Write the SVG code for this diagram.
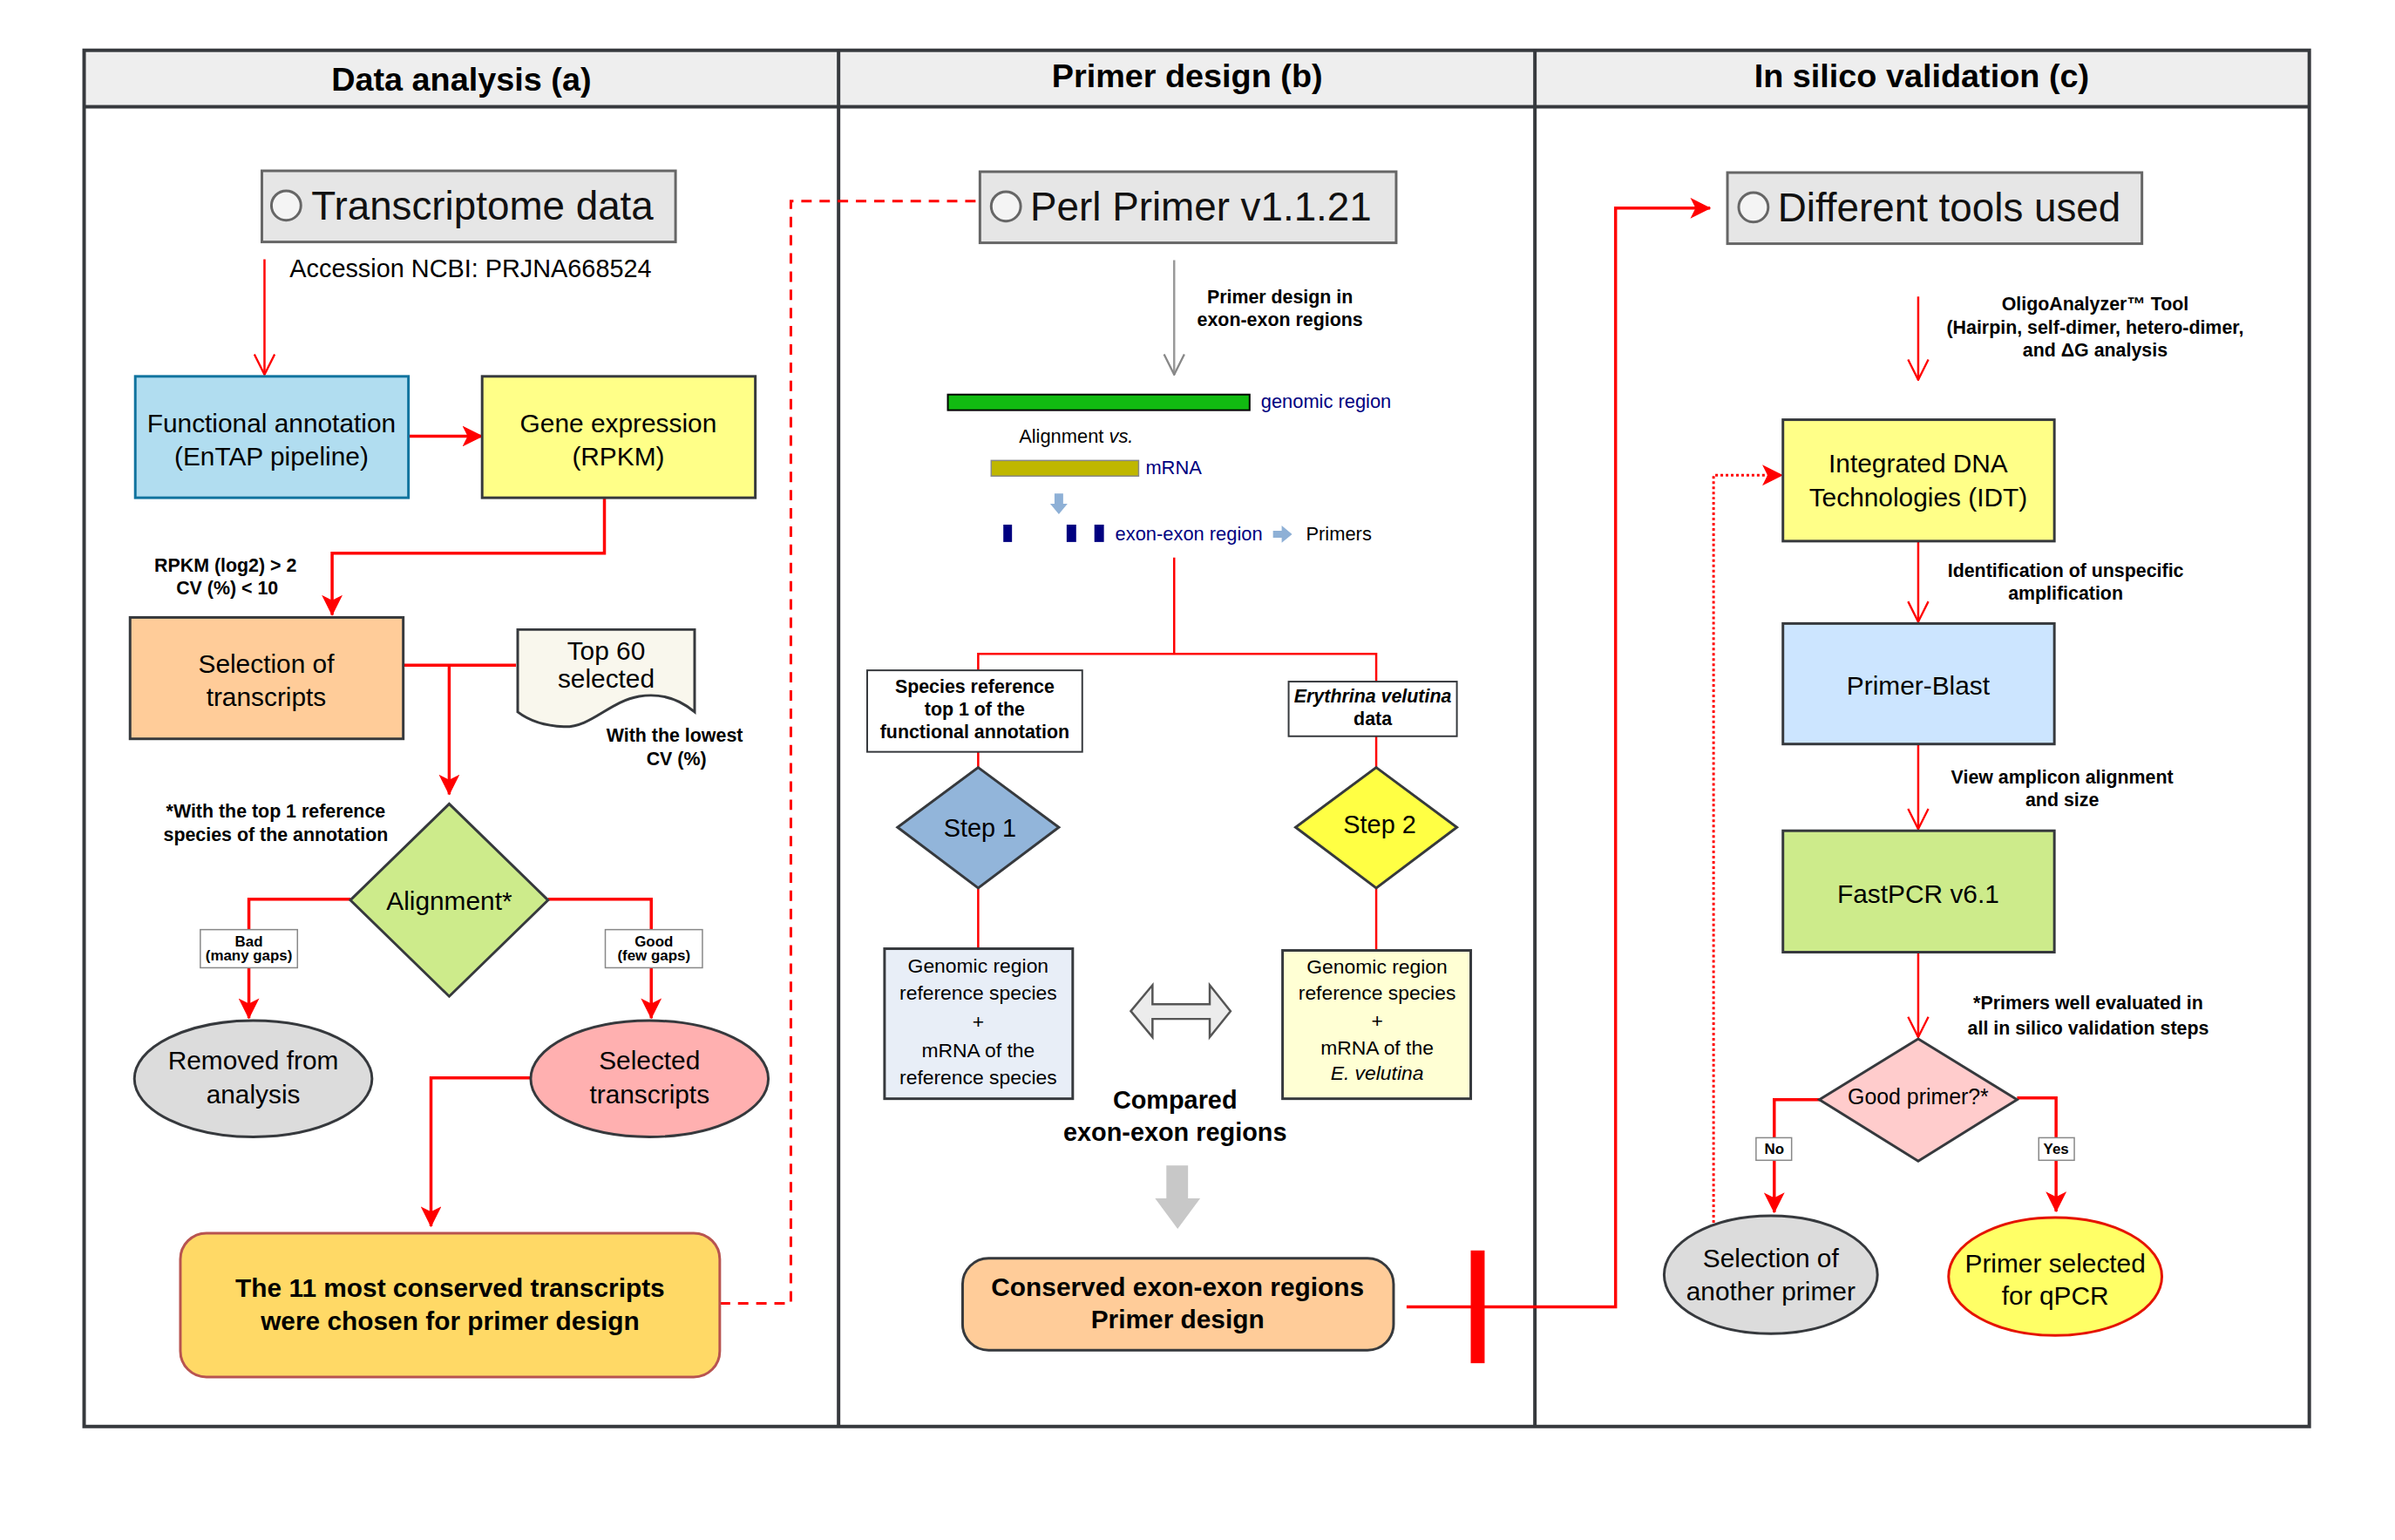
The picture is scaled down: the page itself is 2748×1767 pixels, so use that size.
<svg xmlns="http://www.w3.org/2000/svg" width="2748" height="1767" viewBox="0 0 2748 1767">
<defs>
<style>
text{font-family:"Liberation Sans",Arial,Helvetica,sans-serif;fill:#000}
.hd{font-size:38px;font-weight:bold;text-anchor:middle}
.big{font-size:46px;fill:#111}
.n30{font-size:30px;text-anchor:middle}
.n23{font-size:23px;text-anchor:middle}
.n22{font-size:22px}
.b21{font-size:21.5px;font-weight:bold;text-anchor:middle}
.b30{font-size:30px;font-weight:bold;text-anchor:middle}
.b17{font-size:17px;font-weight:bold;text-anchor:middle}
.nav{fill:#000080}
.node{stroke:#36393d;stroke-width:3}
.tool{fill:#e6e6e6;stroke:#666;stroke-width:3}
.circ{fill:#f4f4f4;stroke:#666;stroke-width:3}
.lblbox{fill:#fff;stroke:#888;stroke-width:1.5}
.c3{fill:none;stroke:#ff0000;stroke-width:3.5}
.c2{fill:none;stroke:#ff0000;stroke-width:2.5}
</style>
<marker id="aF" viewBox="0 0 20 20" refX="19" refY="10" markerWidth="24" markerHeight="24" markerUnits="userSpaceOnUse" orient="auto">
<path d="M0,0 L20,10 L0,20 L5,10 Z" fill="#ff0000"/>
</marker>
<marker id="aO" viewBox="0 0 20 20" refX="19" refY="10" markerWidth="26" markerHeight="26" markerUnits="userSpaceOnUse" orient="auto">
<path d="M1,1 L19,10 L1,19" fill="none" stroke="#ff0000" stroke-width="1.8"/>
</marker>
<marker id="aG" viewBox="0 0 20 20" refX="19" refY="10" markerWidth="26" markerHeight="26" markerUnits="userSpaceOnUse" orient="auto">
<path d="M1,1 L19,10 L1,19" fill="none" stroke="#888" stroke-width="1.8"/>
</marker>
</defs>
<rect x="0" y="0" width="2748" height="1767" fill="#fff"/>
<g transform="scale(0.995)">
<g id="frame">
<rect x="97" y="58" width="2566" height="65" fill="#eeeeee"/>
<rect x="97" y="58" width="2566" height="1587" fill="none" stroke="#36393d" stroke-width="4"/>
<line x1="97" y1="123" x2="2663" y2="123" stroke="#36393d" stroke-width="4"/>
<line x1="967" y1="58" x2="967" y2="1645" stroke="#36393d" stroke-width="4"/>
<line x1="1770" y1="58" x2="1770" y2="1645" stroke="#36393d" stroke-width="4"/>
<text class="hd" x="532" y="105">Data analysis (a)</text>
<text class="hd" x="1369" y="101">Primer design (b)</text>
<text class="hd" x="2216" y="101">In silico validation (c)</text>
</g>

<g id="connectors">
<path class="c2" d="M305,299 V432" marker-end="url(#aO)"/>
<path class="c3" d="M471,503 H556" marker-end="url(#aF)"/>
<path class="c3" d="M697,574 V638 H383 V709" marker-end="url(#aF)"/>
<path class="c3" d="M465,767 H595"/>
<path class="c3" d="M518,767 V916" marker-end="url(#aF)"/>
<path class="c3" d="M404,1037 H287 V1174" marker-end="url(#aF)"/>
<path class="c3" d="M632,1037 H751 V1174" marker-end="url(#aF)"/>
<path class="c3" d="M612,1243 H497 V1414" marker-end="url(#aF)"/>
<path d="M830,1503 H912 V232 H1130" fill="none" stroke="#ff0000" stroke-width="3" stroke-dasharray="12 9"/>
<path d="M1354,300 V432" fill="none" stroke="#999" stroke-width="2.5" marker-end="url(#aG)"/>
<path class="c2" d="M1354,643 V754 M1128,773 V754 H1587 V786"/>
<path class="c2" d="M1128,867 V885 M1128,1024 V1094 M1587,849 V885 M1587,1024 V1096"/>
<path class="c3" d="M1622,1507 H1863 V240 H1972" marker-end="url(#aF)"/>
<rect x="1696" y="1442" width="16" height="130" fill="#ff0000"/>
<path class="c2" d="M2212,342 V438" marker-end="url(#aO)"/>
<path class="c2" d="M2212,624 V717" marker-end="url(#aO)"/>
<path class="c2" d="M2212,858 V956" marker-end="url(#aO)"/>
<path class="c2" d="M2212,1098 V1196" marker-end="url(#aO)"/>
<path class="c3" d="M2099,1268 H2046 V1398" marker-end="url(#aF)"/>
<path class="c3" d="M2326,1266 H2371 V1397" marker-end="url(#aF)"/>
<path d="M1976,1410 V548 H2055" fill="none" stroke="#ff0000" stroke-width="3" stroke-dasharray="3 3" marker-end="url(#aF)"/>
</g>

<g id="connector-labels">
<rect class="lblbox" x="231" y="1072" width="112" height="44"/>
<text class="b17" x="287" y="1091">Bad</text>
<text class="b17" x="287" y="1108">(many gaps)</text>
<rect class="lblbox" x="698" y="1072" width="112" height="44"/>
<text class="b17" x="754" y="1091">Good</text>
<text class="b17" x="754" y="1108">(few gaps)</text>
<text class="b21" x="260" y="659">RPKM (log2) &gt; 2</text>
<text class="b21" x="262" y="685">CV (%) &lt; 10</text>
<text class="b21" x="778" y="855">With the lowest</text>
<text class="b21" x="780" y="882">CV (%)</text>
<text class="b21" x="318" y="943">*With the top 1 reference</text>
<text class="b21" x="318" y="970">species of the annotation</text>
<text class="b21" x="1476" y="350">Primer design in</text>
<text class="b21" x="1476" y="376">exon-exon regions</text>
<text class="b21" x="2416" y="358">OligoAnalyzer™ Tool</text>
<text class="b21" x="2416" y="385">(Hairpin, self-dimer, hetero-dimer,</text>
<text class="b21" x="2416" y="411">and ΔG analysis</text>
<text class="b21" x="2382" y="665">Identification of unspecific</text>
<text class="b21" x="2382" y="691">amplification</text>
<text class="b21" x="2378" y="904">View amplicon alignment</text>
<text class="b21" x="2378" y="930">and size</text>
<text class="b21" x="2408" y="1164">*Primers well evaluated in</text>
<text class="b21" x="2408" y="1193">all in silico validation steps</text>
<rect class="lblbox" x="2025" y="1312" width="41" height="26"/>
<text class="b17" x="2046" y="1331">No</text>
<rect class="lblbox" x="2351" y="1312" width="41" height="26"/>
<text class="b17" x="2371" y="1331">Yes</text>
</g>

<g id="transcriptome">
<rect class="tool" x="302" y="197" width="477" height="82"/>
<circle class="circ" cx="330" cy="237" r="17"/>
<text class="big" x="359" y="253">Transcriptome data</text>
<text x="334" y="320" style="font-size:29px">Accession NCBI: PRJNA668524</text>
</g>
<g id="functional">
<rect x="156" y="434" width="315" height="140" fill="#b1ddf0" stroke="#10739e" stroke-width="3"/>
<text class="n30" x="313" y="498">Functional annotation</text>
<text class="n30" x="313" y="537">(EnTAP pipeline)</text>
</g>
<g id="gene">
<rect class="node" x="556" y="434" width="315" height="140" fill="#ffff88"/>
<text class="n30" x="713" y="498">Gene expression</text>
<text class="n30" x="713" y="537">(RPKM)</text>
</g>
<g id="selection">
<rect class="node" x="150" y="712" width="315" height="140" fill="#ffcc99"/>
<text class="n30" x="307" y="776">Selection of</text>
<text class="n30" x="307" y="814">transcripts</text>
</g>
<g id="top60">
<path class="node" fill="#f9f7ed" d="M597,726 H801 V821 C782,805 762,799 737,803 C702,809 682,839 650,838 C627,837 610,831 597,821 Z"/>
<text class="n30" x="699" y="761">Top 60</text>
<text class="n30" x="699" y="793">selected</text>
</g>
<g id="alignment">
<path class="node" fill="#cdeb8b" d="M518,927 L632,1038 L518,1149 L404,1038 Z"/>
<text class="n30" x="518" y="1049">Alignment*</text>
</g>
<g id="removed">
<ellipse class="node" cx="292" cy="1244" rx="137" ry="67" fill="#dcdcdc"/>
<text class="n30" x="292" y="1233">Removed from</text>
<text class="n30" x="292" y="1272">analysis</text>
</g>
<g id="selected">
<ellipse class="node" cx="749" cy="1244" rx="137" ry="67" fill="#ffb0b0"/>
<text class="n30" x="749" y="1233">Selected</text>
<text class="n30" x="749" y="1272">transcripts</text>
</g>
<g id="conserved11">
<rect x="208" y="1422" width="622" height="166" rx="30" fill="#ffd966" stroke="#b85450" stroke-width="3"/>
<text class="b30" x="519" y="1495">The 11 most conserved transcripts</text>
<text class="b30" x="519" y="1534">were chosen for primer design</text>
</g>

<g id="perlprimer">
<rect class="tool" x="1130" y="198" width="480" height="82"/>
<circle class="circ" cx="1160" cy="238" r="17"/>
<text class="big" x="1188" y="254">Perl Primer v1.1.21</text>
</g>
<g id="alignment-scheme">
<rect x="1093" y="455" width="348" height="18" fill="#11bb11" stroke="#000" stroke-width="2"/>
<text class="n22 nav" x="1454" y="470">genomic region</text>
<text class="n22" x="1175" y="511" fill="#222">Alignment <tspan font-style="italic">vs.</tspan></text>
<rect x="1143" y="531" width="170" height="18" fill="#bfb700" stroke="#888" stroke-width="1.5"/>
<text class="n22 nav" x="1321" y="547">mRNA</text>
<path d="M1216,569 H1226 V581 H1231 L1221,593 L1211,581 H1216 Z" fill="#8eb0d6"/>
<rect x="1157" y="605" width="10" height="20" fill="#000080"/>
<rect x="1230" y="605" width="11" height="20" fill="#000080"/>
<rect x="1262" y="605" width="11" height="20" fill="#000080"/>
<text class="n22 nav" x="1286" y="623">exon-exon region</text>
<path d="M1468,612 H1478 V606 L1490,616 L1478,626 V620 H1468 Z" fill="#8eb0d6"/>
<text class="n22" x="1506" y="623" fill="#222">Primers</text>
</g>
<g id="species-ref">
<rect x="1000" y="773" width="248" height="94" fill="#fff" stroke="#36393d" stroke-width="2"/>
<text class="b21" x="1124" y="799">Species reference</text>
<text class="b21" x="1124" y="825">top 1 of the</text>
<text class="b21" x="1124" y="851">functional annotation</text>
</g>
<g id="erythrina">
<rect x="1486" y="786" width="194" height="63" fill="#fff" stroke="#36393d" stroke-width="2"/>
<text class="b21" x="1583" y="810" font-style="italic">Erythrina velutina</text>
<text class="b21" x="1583" y="836">data</text>
</g>
<g id="step1">
<path class="node" fill="#92b5da" d="M1128,885 L1221,954 L1128,1024 L1035,954 Z"/>
<text x="1130" y="965" style="font-size:29px;text-anchor:middle">Step 1</text>
</g>
<g id="step2">
<path class="node" fill="#ffff44" d="M1587,885 L1680,954 L1587,1024 L1494,954 Z"/>
<text x="1591" y="961" style="font-size:29px;text-anchor:middle">Step 2</text>
</g>
<g id="box-ref">
<rect class="node" x="1020" y="1094" width="217" height="173" fill="#e8eef7"/>
<text class="n23" x="1128" y="1122">Genomic region</text>
<text class="n23" x="1128" y="1153">reference species</text>
<text class="n23" x="1128" y="1186">+</text>
<text class="n23" x="1128" y="1219">mRNA of the</text>
<text class="n23" x="1128" y="1250">reference species</text>
</g>
<g id="box-vel">
<rect class="node" x="1479" y="1096" width="217" height="171" fill="#ffffd4"/>
<text class="n23" x="1588" y="1123">Genomic region</text>
<text class="n23" x="1588" y="1153">reference species</text>
<text class="n23" x="1588" y="1185">+</text>
<text class="n23" x="1588" y="1216">mRNA of the</text>
<text class="n23" x="1588" y="1245" font-style="italic">E. velutina</text>
</g>
<g id="compared">
<path d="M1304,1166 L1329,1136 L1329,1158 L1395,1158 L1395,1136 L1419,1166 L1395,1196 L1395,1175 L1329,1175 L1329,1196 Z" fill="#ececec" stroke="#555" stroke-width="2.5"/>
<text class="b30" x="1355" y="1278" style="font-size:29px">Compared</text>
<text class="b30" x="1355" y="1316" style="font-size:29px">exon-exon regions</text>
<path d="M1345,1344 H1370 V1382 H1384 L1358,1417 L1332,1382 H1345 Z" fill="#c8c8c8"/>
</g>
<g id="conserved-design">
<rect class="node" x="1110" y="1451" width="497" height="106" rx="30" fill="#ffcc99"/>
<text class="b30" x="1358" y="1494">Conserved exon-exon regions</text>
<text class="b30" x="1358" y="1532">Primer design</text>
</g>

<g id="tools">
<rect class="tool" x="1992" y="199" width="478" height="82"/>
<circle class="circ" cx="2022" cy="239" r="17"/>
<text class="big" x="2050" y="255">Different tools used</text>
</g>
<g id="idt">
<rect class="node" x="2056" y="484" width="313" height="140" fill="#ffff88"/>
<text class="n30" x="2212" y="545">Integrated DNA</text>
<text class="n30" x="2212" y="584">Technologies (IDT)</text>
</g>
<g id="primerblast">
<rect class="node" x="2056" y="719" width="313" height="139" fill="#cce5ff"/>
<text class="n30" x="2212" y="801">Primer-Blast</text>
</g>
<g id="fastpcr">
<rect class="node" x="2056" y="958" width="313" height="140" fill="#cdeb8b"/>
<text class="n30" x="2212" y="1041">FastPCR v6.1</text>
</g>
<g id="goodprimer">
<path class="node" fill="#ffcccc" d="M2212,1198 L2326,1268 L2212,1339 L2098,1268 Z"/>
<text x="2212" y="1273" style="font-size:25px;text-anchor:middle">Good primer?*</text>
</g>
<g id="another">
<ellipse class="node" cx="2042" cy="1470" rx="123" ry="68" fill="#dcdcdc"/>
<text class="n30" x="2042" y="1461">Selection of</text>
<text class="n30" x="2042" y="1499">another primer</text>
</g>
<g id="selectedqpcr">
<ellipse cx="2370" cy="1472" rx="123" ry="68" fill="#ffff66" stroke="#e51400" stroke-width="3"/>
<text class="n30" x="2370" y="1467">Primer selected</text>
<text class="n30" x="2370" y="1505">for qPCR</text>
</g>
</g>
</svg>
